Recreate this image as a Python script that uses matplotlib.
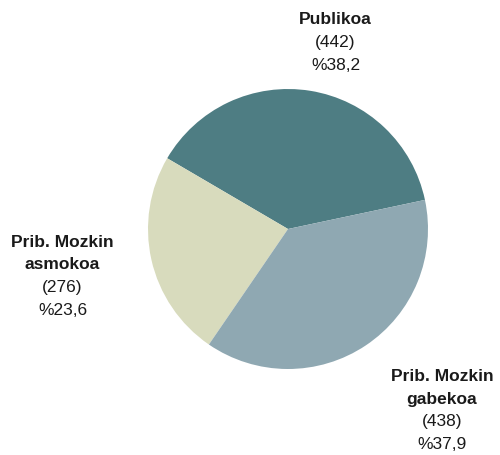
import matplotlib.pyplot as plt

labels = ["Publikoa", "Prib. Mozkin\nasmokoa", "Prib. Mozkin\ngabekoa"]
counts = [442, 276, 438]
percents = ["%38,2", "%23,6", "%37,9"]
colors = ["#4e7d83", "#d8dbbd", "#8fa8b2"]

plt.rcParams["font.family"] = ["Liberation Sans", "DejaVu Sans"]

fig = plt.figure(figsize=(5, 4.56), dpi=100)
ax = fig.add_axes([0.296, 0.1886, 0.56, 0.614])
ax.pie(counts, colors=colors, startangle=12, counterclock=True,
       wedgeprops={"linewidth": 0})
ax.set_xlim(-1, 1)
ax.set_ylim(-1, 1)
ax.set_aspect("equal")
ax.axis("off")

# label block centres in pie-radius units
label_pos = [(0.34, 1.34), (-1.61, -0.33), (1.10, -1.29)]
step = 0.162

for lab, n, pct, (x, y) in zip(labels, counts, percents, label_pos):
    names = lab.split("\n")
    lines = names + ["(%d)" % n, pct]
    top = y + step * (len(lines) - 1) / 2
    for i, line in enumerate(lines):
        weight = "bold" if i < len(names) else "normal"
        ax.text(x, top - i * step, line, ha="center", va="center",
                fontsize=12.5, fontweight=weight, color="#1a1a1a",
                clip_on=False)

fig.savefig("out.png", dpi=100)
